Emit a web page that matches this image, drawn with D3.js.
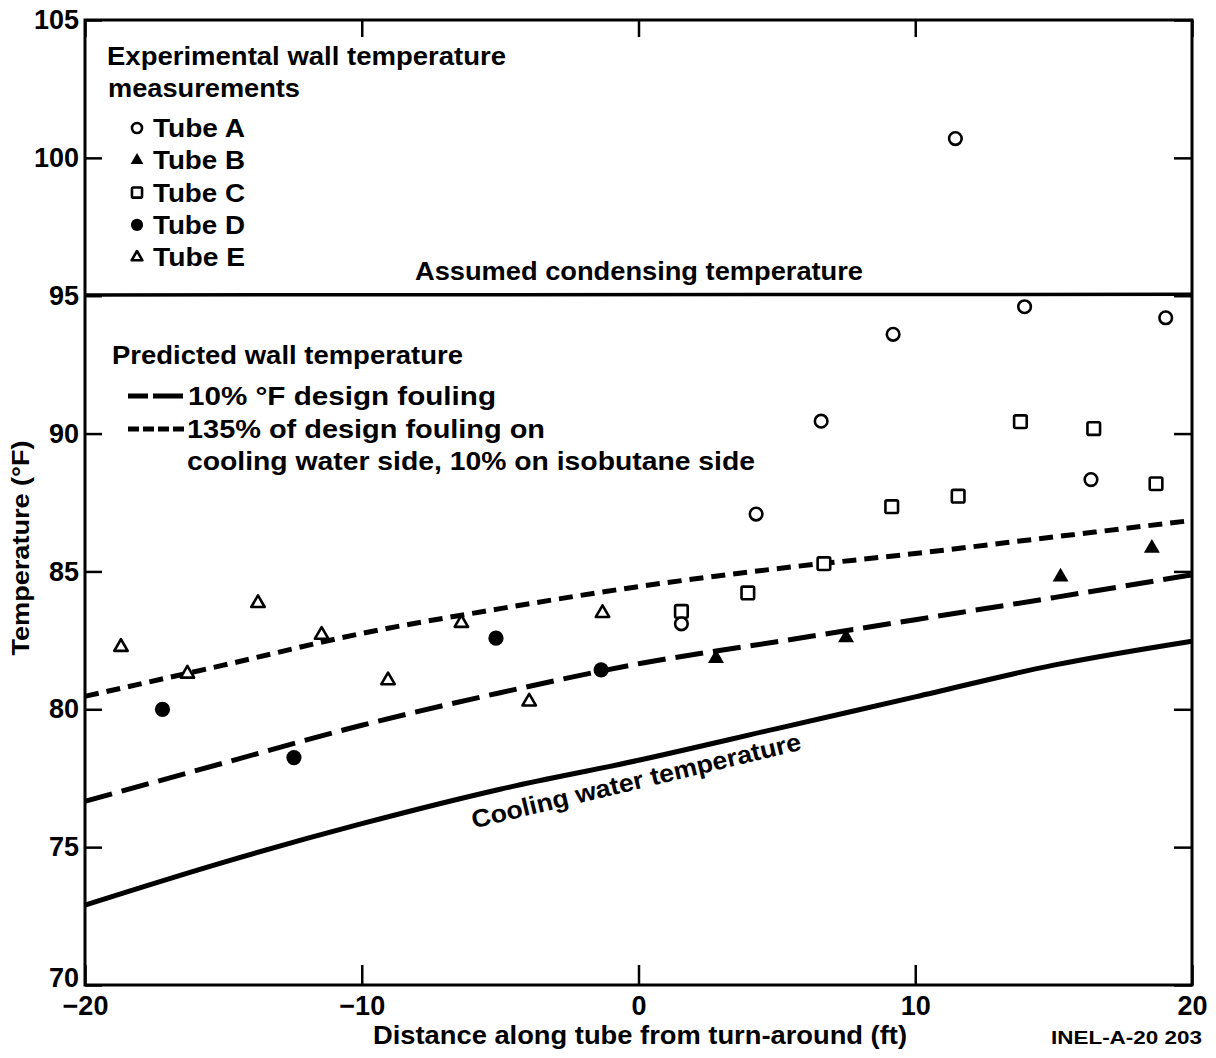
<!DOCTYPE html>
<html>
<head>
<meta charset="utf-8">
<script src="https://cdn.jsdelivr.net/npm/d3@7"></script>
<style>
  html, body { margin: 0; padding: 0; background: #fff; }
  svg { display: block; }
  text { font-family: "Liberation Sans", Arial, Helvetica, sans-serif; font-weight: bold; fill: #000; }
</style>
</head>
<body>
<svg id="chart" width="1216" height="1058"></svg>
<script>
// ---------------- DATA ----------------
const xTicks = [-20, -10, 0, 10, 20];
const yTicks = [70, 75, 80, 85, 90, 95, 100, 105];
const xTickLabels = ["\u221220", "\u221210", "0", "10", "20"];

// Experimental wall temperature measurements [distance ft, temperature °F]
const tubeA = [[1.55, 83.1], [4.25, 87.08], [6.6, 90.45], [9.2, 93.6], [11.45, 100.7], [13.95, 94.6], [16.35, 88.33], [19.05, 94.2]];
const tubeB = [[2.8, 81.85], [7.5, 82.6], [15.25, 84.8], [18.55, 85.84]];
const tubeC = [[1.55, 83.55], [3.95, 84.22], [6.7, 85.28], [9.15, 87.35], [11.55, 87.73], [13.8, 90.43], [16.45, 90.18], [18.7, 88.18]];
const tubeD = [[-17.2, 80.0], [-12.45, 78.25], [-5.15, 82.58], [-1.35, 81.43]];
const tubeE = [[-18.7, 82.26], [-16.3, 81.29], [-13.75, 83.85], [-11.45, 82.7], [-9.05, 81.05], [-6.4, 83.13], [-3.95, 80.28], [-1.3, 83.49]];

// Curves sampled along the tube
const curveX = [-20, -15, -10, -5, 0, 5, 10, 15, 20];
const fouling10 = [76.66, 78.05, 79.42, 80.6, 81.65, 82.45, 83.25, 84.05, 84.88];     // 10% design fouling
const fouling135 = [80.47, 81.6, 82.75, 83.65, 84.45, 85.1, 85.65, 86.25, 86.85];    // 135% design fouling
const coolingWater = [72.9, 74.45, 75.85, 77.1, 78.15, 79.3, 80.45, 81.6, 82.47];   // cooling water temperature
const condensingX = [-20, 20];
const condensing = [95.03, 95.05];                                                   // assumed condensing temperature

// ---------------- LAYOUT ----------------
const svg = d3.select("#chart");
const L = 85, R = 1192, T = 20, B = 985;
const x = d3.scaleLinear().domain([-20, 20]).range([L, R]);
const y = d3.scaleLinear().domain([70, 105]).range([B, T]);

const line = d3.line().x(d => x(d[0])).y(d => y(d[1])).curve(d3.curveMonotoneX);
const zip = (xs, ys) => xs.map((v, i) => [v, ys[i]]);

// curves
const g = svg.append("g");
g.append("path").datum(zip(condensingX, condensing)).attr("d", line)
  .attr("fill", "none").attr("stroke", "#000").attr("stroke-width", 3.5);
g.append("path").datum(zip(curveX, coolingWater)).attr("d", line)
  .attr("fill", "none").attr("stroke", "#000").attr("stroke-width", 5);
g.append("path").datum(zip(curveX, fouling10)).attr("d", line)
  .attr("fill", "none").attr("stroke", "#000").attr("stroke-width", 5)
  .attr("stroke-dasharray", "28 10");
g.append("path").datum(zip(curveX, fouling135)).attr("d", line)
  .attr("fill", "none").attr("stroke", "#000").attr("stroke-width", 5)
  .attr("stroke-dasharray", "14 8");

// frame
svg.append("rect").attr("x", L).attr("y", T).attr("width", R - L).attr("height", B - T)
  .attr("fill", "none").attr("stroke", "#000").attr("stroke-width", 3);

// axes (ticks pointing inward)
function styleAxis(sel) {
  sel.select(".domain").remove();
  sel.selectAll(".tick line").attr("stroke", "#000").attr("stroke-width", 2.5);
  sel.selectAll(".tick text").style("font-size", "27px").style("font-family", '"Liberation Sans", Arial, sans-serif')
     .style("font-weight", "bold").attr("fill", "#000");
}
const yAxisG = svg.append("g").attr("transform", `translate(${L},0)`)
  .call(d3.axisLeft(y).tickValues(yTicks).tickSize(-17).tickPadding(6).tickFormat(d3.format("d")))
  .call(styleAxis);
yAxisG.selectAll(".tick text").filter(d => d === 70).attr("dy", "0.05em");
svg.append("g").attr("transform", `translate(${R},0)`)
  .call(d3.axisRight(y).tickValues(yTicks).tickSize(-18).tickFormat(""))
  .call(styleAxis);
svg.append("g").attr("transform", `translate(0,${B})`)
  .call(d3.axisBottom(x).tickValues(xTicks).tickSize(-20).tickPadding(11)
        .tickFormat((d, i) => xTickLabels[i]))
  .call(styleAxis);
svg.append("g").attr("transform", `translate(0,${T})`)
  .call(d3.axisTop(x).tickValues(xTicks).tickSize(-17).tickFormat(""))
  .call(styleAxis);

// markers
const sym = (type, size) => d3.symbol().type(type).size(size)();
function drawMarker(sel, kind, scale) {
  const s = scale || 1;
  if (kind === "A") sel.append("circle").attr("r", 6.3 * s).attr("fill", "#fff").attr("stroke", "#000").attr("stroke-width", 2.6);
  if (kind === "D") sel.append("circle").attr("r", 7.6 * s).attr("fill", "#000");
  if (kind === "C") sel.append("rect").attr("x", -6.3 * s).attr("y", -6.3 * s).attr("width", 12.6 * s).attr("height", 12.6 * s)
                      .attr("rx", 1.5).attr("fill", "#fff").attr("stroke", "#000").attr("stroke-width", 2.6);
  if (kind === "B") sel.append("path").attr("d", sym(d3.symbolTriangle, 110 * s * s)).attr("fill", "#000");
  if (kind === "E") sel.append("path").attr("d", sym(d3.symbolTriangle, 78 * s * s)).attr("fill", "#fff")
                      .attr("stroke", "#000").attr("stroke-width", 2.6).attr("stroke-linejoin", "round");
}
const series = [["E", tubeE], ["D", tubeD], ["C", tubeC], ["B", tubeB], ["A", tubeA]];
series.forEach(([k, data]) => {
  svg.append("g").selectAll("g").data(data).join("g")
    .attr("transform", d => `translate(${x(d[0])},${y(d[1])})`)
    .each(function () { drawMarker(d3.select(this), k); });
});

// text helper
function label(txt, px, py, size, len, anchor) {
  const t = svg.append("text").attr("x", px).attr("y", py).style("font-size", size + "px")
    .attr("text-anchor", anchor || "start").text(txt);
  if (len) t.attr("textLength", len).attr("lengthAdjust", "spacingAndGlyphs");
  return t;
}

// legend: experimental
label("Experimental wall temperature", 107, 65, 25, 399);
label("measurements", 108, 97, 25, 192);
const legendRows = [["A", "Tube A"], ["B", "Tube B"], ["C", "Tube C"], ["D", "Tube D"], ["E", "Tube E"]];
legendRows.forEach(([k, t], i) => {
  const cy = 128 + i * 32.3;
  const mg = svg.append("g").attr("transform", `translate(137,${cy})`);
  drawMarker(mg, k, 0.8);
  label(t, 153, cy + 9, 25, 92);
});

label("Assumed condensing temperature", 415, 280, 25, 448);

// legend: predicted
label("Predicted wall temperature", 112, 364, 25, 351);
svg.append("line").attr("x1", 128).attr("x2", 183).attr("y1", 396).attr("y2", 396)
  .attr("stroke", "#000").attr("stroke-width", 5).attr("stroke-dasharray", "20 5 30");
label("10% \u00B0F design fouling", 188, 405, 25, 308);
svg.append("line").attr("x1", 128).attr("x2", 185).attr("y1", 429).attr("y2", 429)
  .attr("stroke", "#000").attr("stroke-width", 5).attr("stroke-dasharray", "11 4");
label("135% of design fouling on", 187, 438, 25, 358);
label("cooling water side, 10% on isobutane side", 187, 470, 25, 568);

// cooling water label along curve
svg.append("text").attr("transform", "translate(638,789) rotate(-13.5)")
  .attr("text-anchor", "middle").style("font-size", "25px")
  .attr("textLength", 338).attr("lengthAdjust", "spacingAndGlyphs")
  .text("Cooling water temperature");

// axis titles
svg.append("text").attr("transform", "translate(29,548) rotate(-90)")
  .attr("text-anchor", "middle").style("font-size", "24px")
  .attr("textLength", 215).attr("lengthAdjust", "spacingAndGlyphs")
  .text("Temperature (\u00B0F)");
label("Distance along tube from turn-around (ft)", 640, 1044, 25, 534, "middle");
label("INEL-A-20  203", 1051, 1044, 18, 151);
</script>
</body>
</html>
